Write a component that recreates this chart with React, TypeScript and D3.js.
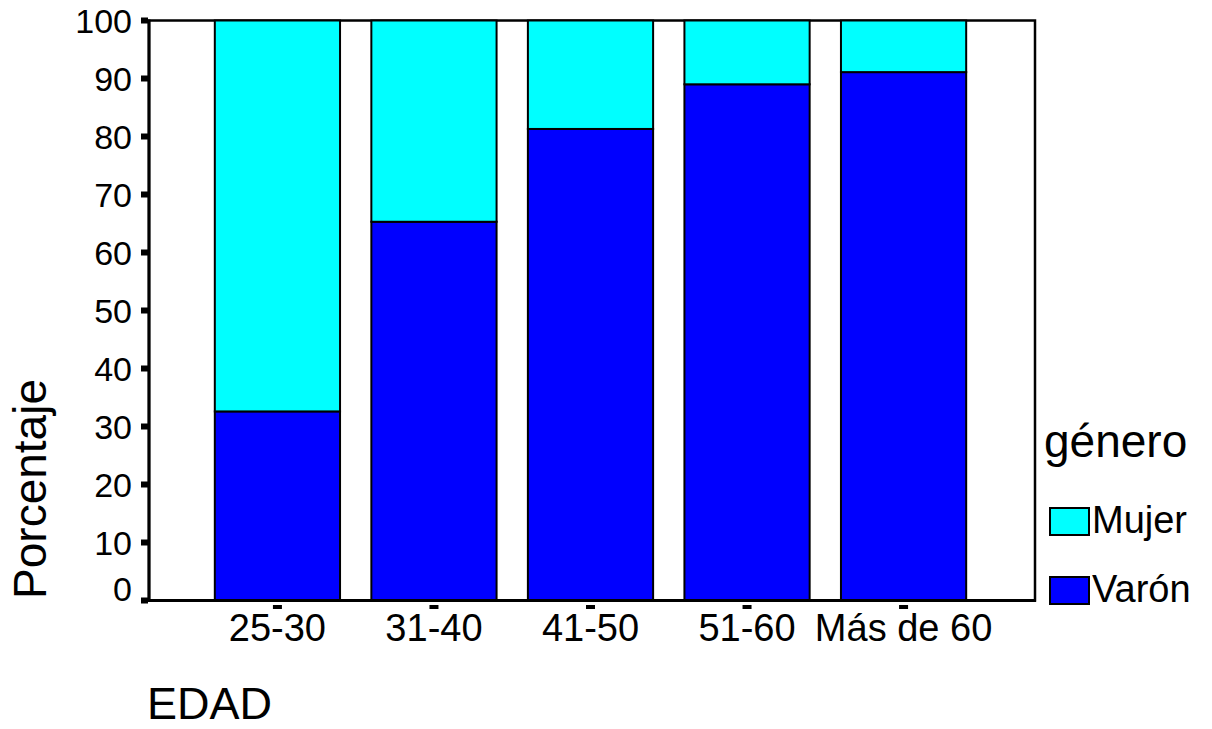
import React from "react";
import * as d3 from "d3";

const categories = ["25-30", "31-40", "41-50", "51-60", "Más de 60"];
const varon = [32.6, 65.3, 81.3, 89.0, 91.1];
const mujer = [67.4, 34.7, 18.7, 11.0, 8.9];
const seriesNames = ["Mujer", "Varón"];
const seriesColors = ["#00FFFF", "#0000FF"];
const yTicks = [0, 10, 20, 30, 40, 50, 60, 70, 80, 90, 100];

const W = 1212;
const H = 729;
const left = 149;
const right = 1035;
const top = 20.5;
const bottom = 600.5;
const FONT = "'Liberation Sans', Arial, Helvetica, sans-serif";

export default function App() {
  const x = d3
    .scaleBand<string>()
    .domain(categories)
    .range([left - 1.5, right - 1.5])
    .paddingInner(0.2)
    .paddingOuter(0.43);
  const y = d3.scaleLinear().domain([0, 100]).range([bottom, top]);

  const rows = categories.map((c, i) => ({ cat: c, Varón: varon[i], Mujer: mujer[i] }));
  const stack = d3.stack<any>().keys(["Varón", "Mujer"])(rows);

  return (
    <svg
      width={W}
      height={H}
      style={{ position: "absolute", left: 0, top: 0, background: "#fff" }}
      fontFamily={FONT}
    >
      <rect x={0} y={0} width={W} height={H} fill="#fff" />
      {/* frame */}
      <rect x={left} y={top} width={right - left} height={bottom - top} fill="none" stroke="#000" strokeWidth={2.5} />
      {/* bars */}
      {stack.map((layer) => {
        const color = layer.key === "Varón" ? seriesColors[1] : seriesColors[0];
        return layer.map((d, i) => (
          <rect
            key={layer.key + i}
            x={x(categories[i])!}
            y={y(d[1])}
            width={x.bandwidth()}
            height={y(d[0]) - y(d[1])}
            fill={color}
            stroke="#000"
            strokeWidth={2}
          />
        ));
      })}
      {/* axes lines */}
      <line x1={left} x2={left} y1={top - 1} y2={bottom + 1.5} stroke="#000" strokeWidth={3} />
      <line x1={left} x2={right + 1} y1={bottom} y2={bottom} stroke="#000" strokeWidth={3} />
      {/* y ticks */}
      {yTicks.map((t) => (
        <g key={t}>
          <rect x={141} y={y(t) - 3} width={7} height={6} fill="#000" />
          <text
            x={132}
            y={y(t) - (t === 0 ? 12 : 0)}
            textAnchor="end"
            dominantBaseline="central"
            fontSize={34}
            fill="#000"
          >
            {t}
          </text>
        </g>
      ))}
      {/* x ticks */}
      {categories.map((c) => {
        const cx = x(c)! + x.bandwidth() / 2;
        return (
          <g key={c}>
            <rect x={cx - 4.5} y={605} width={9} height={4} fill="#000" />
            <text x={cx} y={641} textAnchor="middle" fontSize={38} fill="#000">
              {c}
            </text>
          </g>
        );
      })}
      {/* axis titles */}
      <text x={147} y={719} fontSize={45} fill="#000">EDAD</text>
      <text
        transform={`translate(46, ${489}) rotate(-90)`}
        textAnchor="middle"
        fontSize={46}
        fill="#000"
      >
        Porcentaje
      </text>
      {/* legend */}
      <text x={1044} y={457} fontSize={46} fill="#000">género</text>
      {seriesNames.map((s, i) => (
        <g key={s}>
          <rect x={1050} y={508 + i * 69} width={39} height={27} fill={seriesColors[i]} stroke="#000" strokeWidth={2} />
          <text x={1092} y={533 + i * 69} fontSize={38} fill="#000">{s}</text>
        </g>
      ))}
    </svg>
  );
}
